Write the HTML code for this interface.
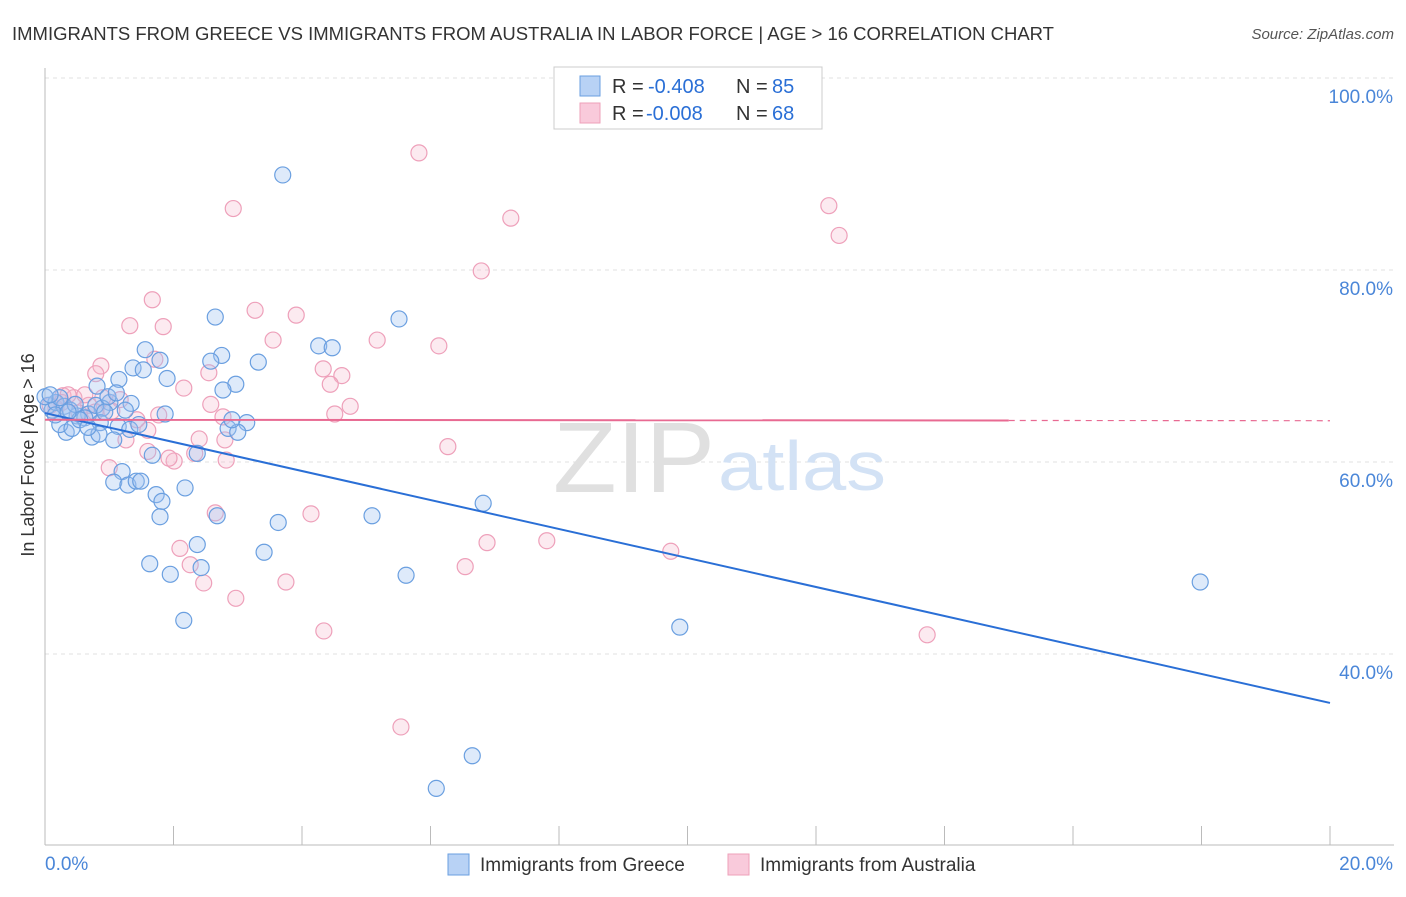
<!DOCTYPE html>
<html><head><meta charset="utf-8">
<style>
html,body{margin:0;padding:0;background:#fff;}
body{width:1406px;height:892px;overflow:hidden;font-family:"Liberation Sans",sans-serif;}
text{font-family:"Liberation Sans",sans-serif;}
</style></head>
<body>
<svg id="chart" width="1406" height="892" viewBox="0 0 1406 892" xmlns="http://www.w3.org/2000/svg">
<text x="12" y="40" font-size="18.5" fill="#333" textLength="1042" lengthAdjust="spacingAndGlyphs">IMMIGRANTS FROM GREECE VS IMMIGRANTS FROM AUSTRALIA IN LABOR FORCE | AGE &gt; 16 CORRELATION CHART</text>
<text x="1394" y="39" font-size="15" fill="#555" font-style="italic" text-anchor="end">Source: ZipAtlas.com</text>
<g id="grid"></g>
<g>
<text x="553" y="492" font-size="100" fill="#e0e0e0" font-family="Liberation Serif, serif" textLength="162" lengthAdjust="spacingAndGlyphs">ZIP</text>
<text x="718" y="490" font-size="70" fill="#d3e2f5" textLength="168" lengthAdjust="spacingAndGlyphs">atlas</text>
</g>
<g id="axes"></g>
<g id="pinkPts"></g>
<g id="bluePts"></g>
<g id="trends"></g>
<text transform="translate(34,455) rotate(-90)" font-size="18" fill="#333" text-anchor="middle">In Labor Force | Age &gt; 16</text>
<g>
<rect x="554" y="67" width="268" height="62" fill="#fff" stroke="#ccc"/>
<rect x="580" y="76" width="20" height="20" fill="#b8d2f5" stroke="#6a9fe0"/>
<text x="612" y="93" font-size="20" fill="#333">R =</text>
<text x="648" y="93" font-size="20" fill="#2a6fd6">-0.408</text>
<text x="736" y="93" font-size="20" fill="#333">N =</text>
<text x="772" y="93" font-size="20" fill="#2a6fd6">85</text>
<rect x="580" y="103" width="20" height="20" fill="#f9cadb" stroke="#eea0ba"/>
<text x="612" y="120" font-size="20" fill="#333">R =</text>
<text x="646" y="120" font-size="20" fill="#2a6fd6">-0.008</text>
<text x="736" y="120" font-size="20" fill="#333">N =</text>
<text x="772" y="120" font-size="20" fill="#2a6fd6">68</text>
</g>
<g>
<rect x="448" y="854" width="21" height="21" fill="#b8d2f5" stroke="#6a9fe0"/>
<text x="480" y="871" font-size="19" fill="#333">Immigrants from Greece</text>
</g>
<g>
<rect x="728" y="854" width="21" height="21" fill="#f9cadb" stroke="#eea0ba"/>
<text x="760" y="871" font-size="19" fill="#333">Immigrants from Australia</text>
</g>
</svg>
<script>
const xTicks=[0,2,4,6,8,10,12,14,16,18,20];
const yTicks=[40,60,80,100];
const yTickLabels=["40.0%","60.0%","80.0%","100.0%"];
const xAxisLabels=["0.0%","20.0%"];
const greeceX=[3.70,2.65,5.51,4.26,4.47,1.56,2.75,2.58,3.32,1.79,1.37,1.53,1.15,1.90,2.97,0.81,2.77,1.01,1.34,0.89,1.25,1.87,0.68,0.50,0.62,0.86,1.14,1.32,2.85,3.14,3.00,0.33,0.23,0.42,0.73,1.07,0.84,0.11,0.05,0.17,0.30,0.39,0.54,1.67,2.37,1.20,1.07,1.29,1.42,1.49,1.73,1.82,2.18,1.79,2.68,6.82,5.09,3.63,2.37,3.41,1.63,1.95,2.43,5.62,17.98,2.16,9.88,6.65,6.09,0.79,0.98,1.11,0.23,0.00,0.08,0.47,0.16,0.36,0.67,0.93,1.46,2.91];
const greeceY=[89.9,75.1,74.9,72.1,71.9,71.7,71.1,70.5,70.4,70.6,69.8,69.6,68.6,68.7,68.1,67.9,67.5,66.2,66.1,65.6,65.4,65.0,65.0,64.8,64.6,64.1,63.7,63.4,63.5,64.1,63.1,63.1,63.9,63.5,62.6,62.3,62.9,65.4,65.9,66.2,65.8,65.4,64.4,60.7,60.9,59.0,57.9,57.6,58.0,58.0,56.6,55.9,57.3,54.3,54.4,55.7,54.4,53.7,51.4,50.6,49.4,48.3,49.0,48.2,47.5,43.5,42.8,29.4,26.0,65.9,66.8,67.2,66.7,66.8,67.0,66.0,64.9,65.2,63.6,65.2,63.9,64.4];
const ausX=[5.82,2.93,7.25,12.20,12.36,6.79,1.67,3.27,3.91,1.32,1.84,3.55,5.17,6.13,1.71,0.87,0.79,4.33,4.62,2.55,2.16,4.44,2.58,4.75,4.51,1.17,1.77,1.43,0.90,1.04,0.28,0.45,0.68,0.17,0.53,1.26,1.60,2.77,2.80,2.40,1.60,2.01,1.00,2.82,2.33,6.27,1.93,2.65,4.14,2.10,6.88,7.81,9.74,2.26,2.47,3.75,6.54,2.97,4.34,13.73,5.54,0.26,0.36,0.62,0.78,0.08];
const ausY=[92.2,86.4,85.4,86.7,83.6,79.9,76.9,75.8,75.3,74.2,74.1,72.7,72.7,72.1,70.7,70.0,69.2,69.7,69.0,69.3,67.7,68.1,66.0,65.8,65.0,66.5,64.9,64.4,66.7,65.3,66.9,66.7,65.9,65.6,65.1,62.3,63.3,64.7,62.3,62.4,61.1,60.1,59.4,60.2,60.9,61.6,60.4,54.7,54.6,51.0,51.6,51.8,50.7,49.3,47.4,47.5,49.1,45.8,42.4,42.0,32.4,66.2,67.0,67.0,65.2,65.9];
const greeceTrend=[65.1,34.9];
const ausTrend=[64.4,64.3];
const ausSolidEnd=15.0;

const NS="http://www.w3.org/2000/svg";
const X=v=>45+v*64.25;
const Y=v=>78+(100-v)*9.6;
function mk(tag,attrs,parent){const e=document.createElementNS(NS,tag);for(const k in attrs)e.setAttribute(k,attrs[k]);parent.appendChild(e);return e;}
const grid=document.getElementById('grid'),axes=document.getElementById('axes');
yTicks.forEach((t,i)=>{
  const l=mk('line',{x1:45,x2:1394,y1:Y(t),y2:Y(t),stroke:'#e0e0e0','stroke-dasharray':'4,4'},grid);
  
  
  const tx=mk('text',{x:1393,y:Y(t)+25,'font-size':19,fill:'#4a86d8','text-anchor':'end'},axes);
  tx.textContent=yTickLabels[i];
  
  
});
const ax=mk('line',{x1:45,x2:1394,y1:845,y2:845,stroke:'#bbb'},axes);


const ay=mk('line',{x1:45,x2:45,y1:68,y2:845,stroke:'#bbb'},axes);


xTicks.forEach(t=>{
  const l=mk('line',{x1:X(t),x2:X(t),y1:826,y2:845,stroke:'#bbb'},axes);
  
  
});
[[0,'start'],[20,'end']].forEach((p,i)=>{
  const tx=mk('text',{x:i?1393:45,y:870,'font-size':19,fill:'#4a86d8','text-anchor':p[1]},axes);
  tx.textContent=xAxisLabels[i];
  
  
});
const pg=document.getElementById('pinkPts');
ausX.forEach((x,i)=>{
  const c=mk('circle',{cx:X(x),cy:Y(ausY[i]),r:8,fill:'rgba(245,185,205,0.3)',stroke:'#eea0ba','stroke-width':1.2},pg);
  
  
});
const bg=document.getElementById('bluePts');
greeceX.forEach((x,i)=>{
  const c=mk('circle',{cx:X(x),cy:Y(greeceY[i]),r:8,fill:'rgba(160,195,240,0.35)',stroke:'#6a9fe0','stroke-width':1.2},bg);
  
  
});
const tg=document.getElementById('trends');
const bt=mk('line',{x1:X(0),y1:Y(greeceTrend[0]),x2:X(20),y2:Y(greeceTrend[1]),stroke:'#2a6fd6','stroke-width':2},tg);


const aY=x=>ausTrend[0]+(ausTrend[1]-ausTrend[0])*x/20;
const pt=mk('line',{x1:X(0),y1:Y(aY(0)),x2:X(ausSolidEnd),y2:Y(aY(ausSolidEnd)),stroke:'#e86a92','stroke-width':2},tg);


const pd=mk('line',{x1:X(ausSolidEnd),y1:Y(aY(ausSolidEnd)),x2:X(20),y2:Y(aY(20)),stroke:'#e86a92','stroke-width':1.2,'stroke-dasharray':'6,5'},tg);


</script>
</body></html>
